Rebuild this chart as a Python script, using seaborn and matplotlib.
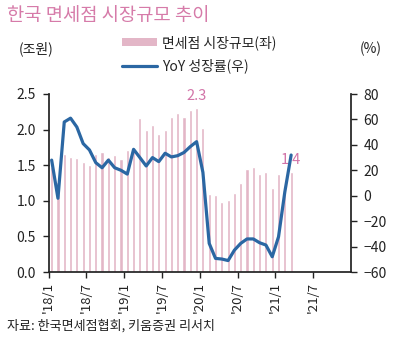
import numpy as np
import pandas as pd
import matplotlib
matplotlib.use("Agg")
import matplotlib.pyplot as plt
from matplotlib.lines import Line2D
from matplotlib.patches import Patch
import seaborn as sns

# Monthly duty-free market size (trillion KRW) and YoY growth (%), 2018/1 - 2021/3
months = pd.period_range("2018-01", "2021-03", freq="M").strftime("%Y-%m").tolist()
market_size = [1.47, 1.26, 1.66, 1.62, 1.60, 1.54, 1.50, 1.66, 1.69, 1.62, 1.64, 1.59,
               1.71, 1.72, 2.16, 1.99, 2.07, 1.94, 2.00, 2.17, 2.24, 2.18, 2.28, 2.30,
               2.02, 1.10, 1.08, 0.99, 1.01, 1.11, 1.25, 1.44, 1.48, 1.38, 1.41, 1.18,
               1.37, 1.14, 1.40]
yoy_growth = [28, -2, 58, 61, 54, 41, 36, 26, 22, 28, 22, 20,
              17, 36.5, 30, 23.4, 30, 26.8, 33.4, 30.5, 31.5, 34, 38.6, 42.5,
              18.4, -37.5, -49.3, -49.8, -51, -42.8, -37.5, -34, -34, -37, -38.8, -48,
              -32.3, 3, 32]
tick_labels = ["'18/1", "'18/7", "'19/1", "'19/7", "'20/1", "'20/7", "'21/1", "'21/7"]
labeled_months = ["2019-12", "2021-03"]

bar_color = "#E3B6C7"
line_color = "#2B67A3"
accent = "#D274A8"

sns.set_theme(style="white")
plt.rcParams["font.family"] = ["Noto Sans CJK KR", "DejaVu Sans"]
plt.rcParams["axes.unicode_minus"] = True

df = pd.DataFrame({"month": months, "size": market_size, "yoy": yoy_growth})
df["pos"] = np.arange(len(df)) + 0.5

fig = plt.figure(figsize=(3.97, 3.44), dpi=100)
ax = fig.add_axes([48.5 / 397, 72 / 344, 302.5 / 397, 178 / 344])
ax2 = ax.twinx()

sns.barplot(data=df, x="pos", y="size", native_scale=True, color=bar_color,
            width=0.5, saturation=1, ax=ax, zorder=1)
sns.lineplot(data=df, x="pos", y="yoy", color=line_color, linewidth=2.3, ax=ax2)

ax.set_zorder(1)
ax2.set_zorder(2)
ax2.patch.set_visible(False)

ax.set_xlim(0, 48)
ax.set_ylim(0, 2.5)
ax2.set_ylim(-60, 80)
ax.set_yticks(np.arange(0, 2.51, 0.5))
ax.set_yticklabels([f"{v:.1f}" for v in np.arange(0, 2.51, 0.5)])
ax2.set_yticks(np.arange(-60, 81, 20))
ax.set_xticks(np.arange(0, 48, 6))
ax.set_xticklabels(tick_labels, rotation=90, va="top", ha="center")
ax.set_xlabel("")
ax.set_ylabel("")
ax2.set_xlabel("")
ax2.set_ylabel("")

for a in (ax, ax2):
    a.spines["top"].set_visible(False)
    a.spines["left"].set_color("#222222")
    a.spines["right"].set_color("#222222")
    a.spines["bottom"].set_color("#222222")
    a.tick_params(colors="#222222", labelsize=10, length=4, width=1)
ax.spines["right"].set_visible(False)
ax2.spines["left"].set_visible(False)
ax2.spines["bottom"].set_visible(False)
ax.tick_params(axis="y", left=True, pad=5)
ax.tick_params(axis="x", bottom=True, pad=3, labelsize=9.5)
ax2.tick_params(axis="y", right=True, pad=5)
ax.grid(False)
ax2.grid(False)

# value labels on highlighted bars
for m in labeled_months:
    row = df[df["month"] == m].iloc[0]
    ax.text(row["pos"], row["size"] + 0.07, f"{row['size']:.1f}", color=accent,
            fontsize=10.5, ha="center", va="bottom", zorder=5)

fig.text(7 / 397, 1 - 16 / 344, "한국 면세점 시장규모 추이", color="#D67BA9",
         fontsize=13.5, ha="left", va="center")
fig.text(36.5 / 397, 1 - 49 / 344, "(조원)", fontsize=10, ha="center", va="center", color="#222222")
fig.text(371 / 397, 1 - 49 / 344, "(%)", fontsize=10, ha="center", va="center", color="#222222")
fig.text(7 / 397, 1 - 326 / 344, "자료: 한국면세점협회, 키움증권 리서치", fontsize=9.4,
         ha="left", va="center", color="#222222")

handles = [Patch(facecolor=bar_color, edgecolor="none"),
           Line2D([0], [0], color=line_color, linewidth=2.3)]
fig.legend(handles, ["면세점 시장규모(좌)", "YoY 성장률(우)"], loc="upper left",
           bbox_to_anchor=(122 / 397, 1 - 35 / 344), frameon=False, fontsize=10,
           handlelength=2.5, handleheight=0.5, handletextpad=0.4, labelspacing=0.62,
           borderpad=0, borderaxespad=0)

fig.savefig("out.png", dpi=100)
